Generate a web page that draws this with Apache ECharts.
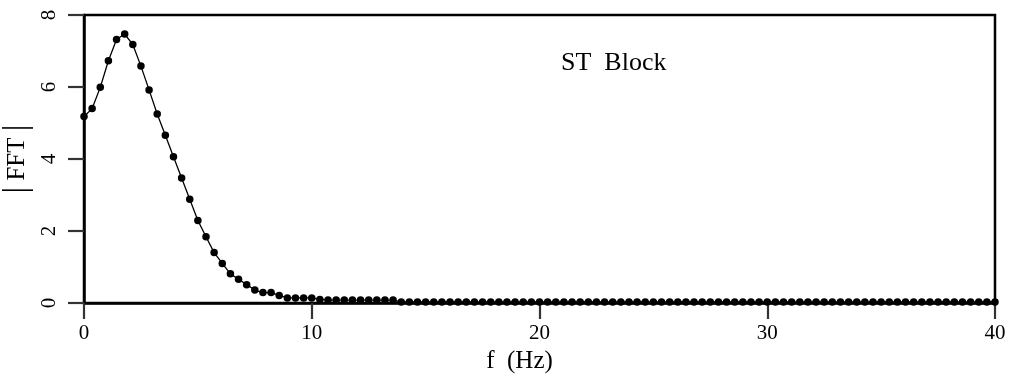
<!DOCTYPE html>
<html>
<head>
<meta charset="utf-8">
<script src="https://cdn.jsdelivr.net/npm/echarts@6/dist/echarts.min.js"></script>
<style>
html,body{margin:0;padding:0;background:#fff;}
#c{width:1011px;height:381px;}
</style>
</head>
<body>
<div id="c"></div>
<script>
// Frequency step (Hz) between FFT bins
const freqStep = 10 / 28;
// |FFT| magnitudes, one per bin
const magnitudes = [
  5.18, 5.40, 5.99, 6.73, 7.32, 7.47, 7.18, 6.58, 5.92, 5.25,
  4.66, 4.06, 3.47, 2.88, 2.29, 1.84, 1.40, 1.10, 0.81, 0.66,
  0.51, 0.36, 0.29, 0.29, 0.21, 0.14, 0.14, 0.14, 0.14, 0.10,
  0.08, 0.08, 0.08, 0.08, 0.08, 0.08, 0.08, 0.08, 0.08, 0.03,
  0.03, 0.03, 0.03, 0.03, 0.03, 0.03, 0.03, 0.03, 0.03, 0.03,
  0.03, 0.03, 0.03, 0.03, 0.03, 0.03, 0.03, 0.03, 0.03, 0.03,
  0.03, 0.03, 0.03, 0.03, 0.03, 0.03, 0.03, 0.03, 0.03, 0.03,
  0.03, 0.03, 0.03, 0.03, 0.03, 0.03, 0.03, 0.03, 0.03, 0.03,
  0.03, 0.03, 0.03, 0.03, 0.03, 0.03, 0.03, 0.03, 0.03, 0.03,
  0.03, 0.03, 0.03, 0.03, 0.03, 0.03, 0.03, 0.03, 0.03, 0.03,
  0.03, 0.03, 0.03, 0.03, 0.03, 0.03, 0.03, 0.03, 0.03, 0.03,
  0.03, 0.03, 0.03
];
const xTicks = [0, 10, 20, 30, 40];
const yTicks = [0, 2, 4, 6, 8];
const xTitle = 'f  (Hz)';
const yTitleText = ' FFT ';
const panelLabel = 'ST  Block';

const points = magnitudes.map((v, i) => [i * freqStep, v]);
const font = 'Liberation Serif, Times New Roman, serif';

const chart = echarts.init(document.getElementById('c'), null, {renderer: 'canvas'});
chart.setOption({
  animation: false,
  backgroundColor: '#fff',
  grid: {
    left: 84, right: 16, top: 15, bottom: 78, outerBoundsMode: 'none', containLabel: false,
    show: true, borderColor: '#000', borderWidth: 2.5, backgroundColor: 'transparent'
  },
  xAxis: {
    type: 'value', min: xTicks[0], max: xTicks[xTicks.length - 1], interval: 10,
    splitLine: {show: false},
    axisLine: {show: true, lineStyle: {color: '#000', width: 2.5}},
    axisTick: {show: true, length: 16, lineStyle: {color: '#333', width: 2.2}},
    axisLabel: {color: '#000', fontFamily: font, fontSize: 21, margin: 20},
    name: xTitle, nameLocation: 'middle', nameGap: 44,
    nameTextStyle: {color: '#000', fontFamily: font, fontSize: 25, padding: [0, 40, 0, 0]}
  },
  yAxis: {
    type: 'value', min: yTicks[0], max: yTicks[yTicks.length - 1], interval: 2,
    splitLine: {show: false},
    axisLine: {show: true, lineStyle: {color: '#000', width: 2.5}},
    axisTick: {show: true, length: 16, lineStyle: {color: '#333', width: 2.2}},
    axisLabel: {color: '#000', fontFamily: font, fontSize: 21, rotate: 90, margin: 24}
  },
  graphic: [
    {type: 'text', z: 20, left: 561, top: 50,
     style: {text: panelLabel, font: '26px ' + font, fill: '#000'}},
    {type: 'text', z: 20, x: 17, y: 159, rotation: Math.PI / 2,
     style: {
       text: '{bar||}{t|' + yTitleText + '}{bar||}',
       align: 'center', verticalAlign: 'middle', fill: '#000',
       font: '25px ' + font,
       rich: {
         bar: {fontFamily: font, fontSize: 33, lineHeight: 18, fill: '#000'},
         t: {fontFamily: font, fontSize: 25, lineHeight: 25, fill: '#000'}
       }
     }}
  ],
  series: [{
    type: 'line', data: points, z: 2,
    symbol: 'circle', symbolSize: 7.5, showSymbol: true,
    lineStyle: {color: '#000', width: 1.3},
    itemStyle: {color: '#000'},
    clip: true
  }]
});
</script>
</body>
</html>
